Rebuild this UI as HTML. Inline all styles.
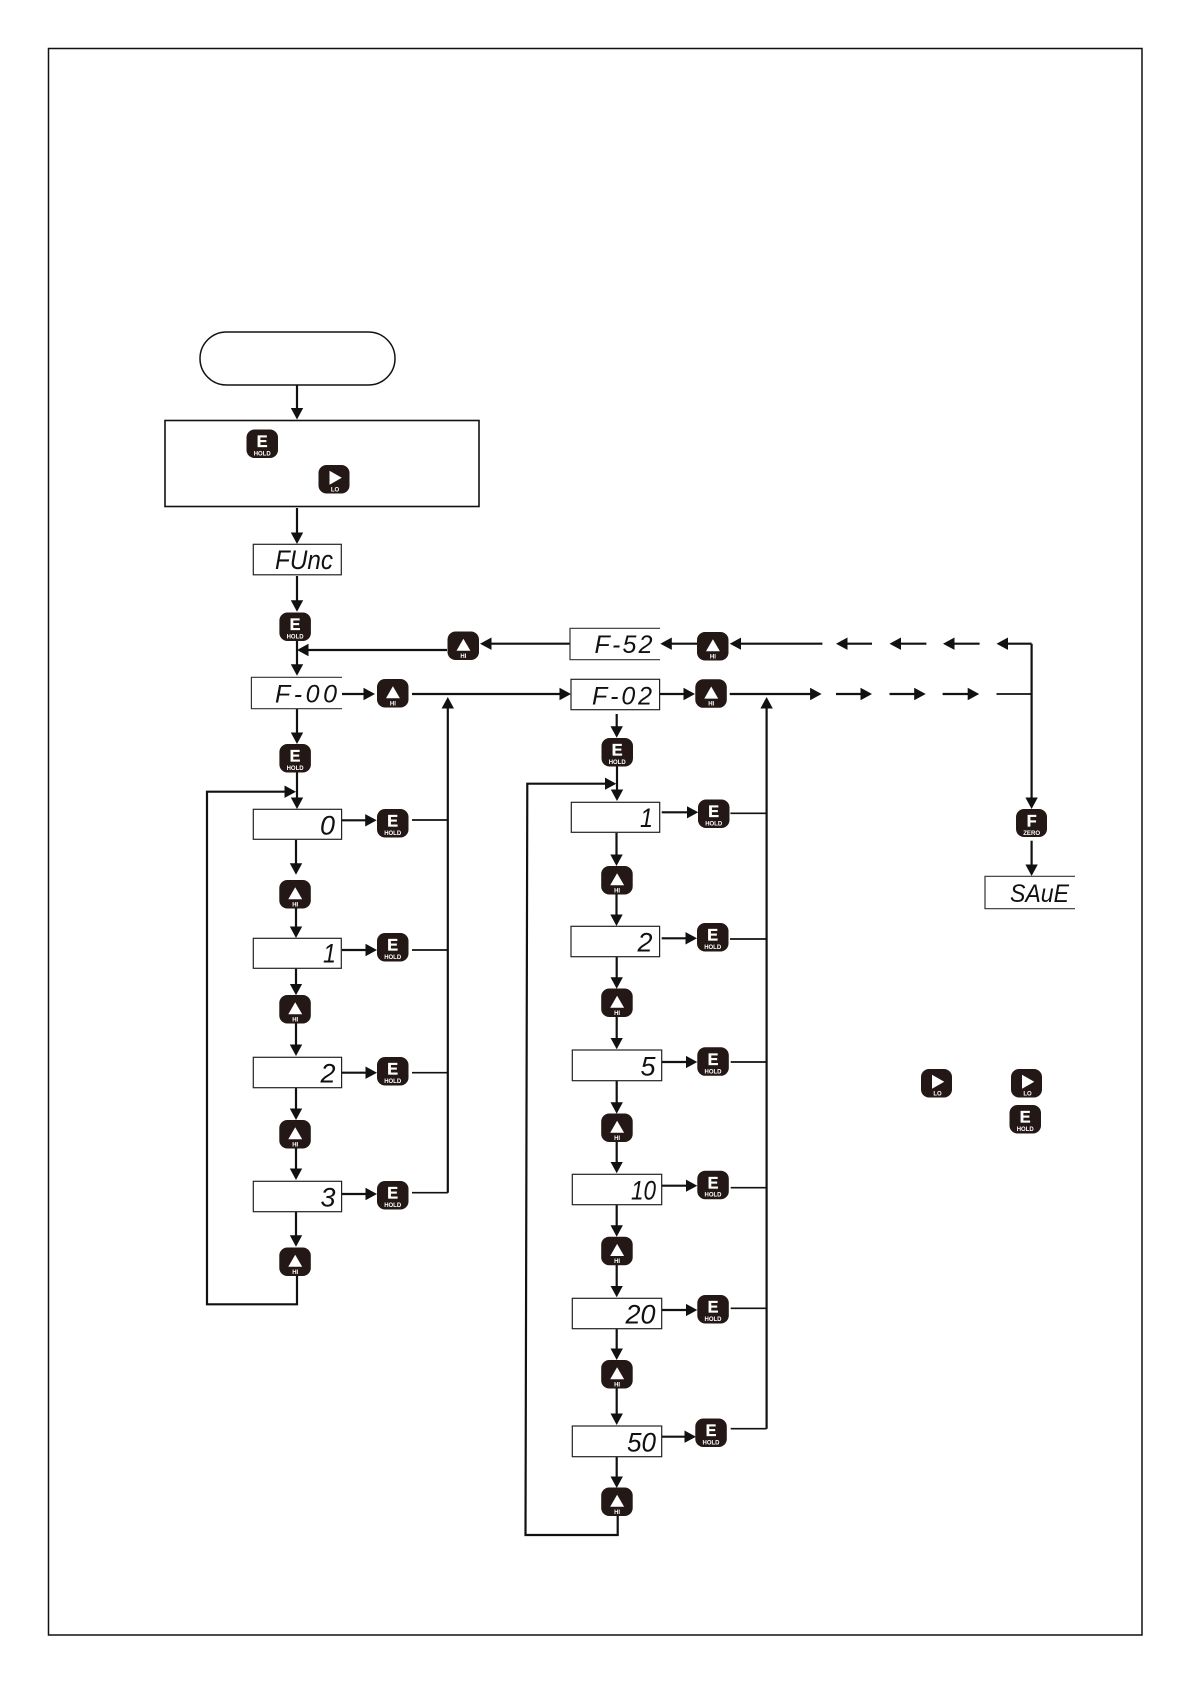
<!DOCTYPE html>
<html><head><meta charset="utf-8"><style>
html,body{margin:0;padding:0;background:#fff}
svg{display:block}
.l{fill:none;stroke:#111;stroke-width:2}
.t{fill:none;stroke:#111;stroke-width:1.7}
.a{fill:none;stroke:#111;stroke-width:2.2;marker-end:url(#h)}
.b{fill:#fff;stroke:#222;stroke-width:1.2}
.o{fill:none;stroke:#333;stroke-width:1.2}
.d{font-family:"Liberation Sans",sans-serif;font-style:italic;font-size:27px;fill:#111}
.s{font-size:25px}
.k{font-family:"Liberation Sans",sans-serif;font-weight:bold;fill:#fff;text-anchor:middle}
</style></head><body>
<svg width="1191" height="1684" viewBox="0 0 1191 1684" xmlns="http://www.w3.org/2000/svg">
<defs>
<marker id="h" markerUnits="userSpaceOnUse" markerWidth="13" markerHeight="14" refX="5.5" refY="7" orient="auto"><path d="M0,0.8 L11.5,7 L0,13.2z" fill="#111"/></marker>
<g id="E"><rect width="31.5" height="28.5" rx="8" fill="#231815"/><text class="k" x="15.7" y="17.6" font-size="16.2" stroke="#fff" stroke-width=".35">E</text><text class="k" x="15.7" y="26" font-size="6.3" textLength="17" lengthAdjust="spacingAndGlyphs">HOLD</text></g>
<g id="H"><rect width="31.5" height="28.5" rx="8" fill="#231815"/><path d="M15.9,7.2 L22.9,19.3 H9 z" fill="#fff"/><text class="k" x="15.9" y="26.3" font-size="6">HI</text></g>
<g id="L"><rect width="31" height="28.5" rx="8" fill="#231815"/><path d="M11,5.7 L23.3,12.7 L11,19.7 z" fill="#fff"/><text class="k" x="16.5" y="26.3" font-size="6">LO</text></g>
<g id="F"><rect width="31" height="28" rx="8" fill="#231815"/><text class="k" x="15.7" y="17.6" font-size="16.2" stroke="#fff" stroke-width=".35">F</text><text class="k" x="15.7" y="26" font-size="6.3" textLength="17" lengthAdjust="spacingAndGlyphs">ZERO</text></g>
</defs>

<!-- page frame -->
<rect x="48.5" y="48.5" width="1093.5" height="1586.5" fill="none" stroke="#111" stroke-width="1.5"/>

<!-- top -->
<rect x="200" y="332" width="195" height="53" rx="26.5" fill="none" stroke="#111" stroke-width="1.5"/>
<rect x="165" y="420.5" width="314" height="86" fill="none" stroke="#111" stroke-width="1.6"/>
<use href="#E" x="246.5" y="429.5"/>
<use href="#L" x="318.5" y="465"/>

<!-- left column vertical arrows -->
<path class="a" d="M297,385V413.5"/>
<path class="a" d="M297,508V538"/>
<path class="a" d="M297,576V605.7"/>
<path class="a" d="M297,640V669.7"/>
<path class="a" d="M297,709V738"/>
<path class="a" d="M297,772V803"/>
<path class="a" d="M296,840V868.7"/>
<path class="a" d="M296,907.7V932"/>
<path class="a" d="M296,968.7V989.3"/>
<path class="a" d="M296,1022.7V1050"/>
<path class="a" d="M296,1088V1114"/>
<path class="a" d="M296,1148V1174"/>
<path class="a" d="M296,1212V1240.7"/>

<!-- left loop -->
<path class="a" d="M297,1275V1304.3H207V791.7H290"/>

<!-- F-52 return -->
<path class="a" d="M447,650H303"/>
<path class="a" d="M570,643.7H486"/>

<!-- F-00 -->
<path class="a" d="M342,694H369"/>
<path class="a" d="M412,694H565"/>
<path class="a" d="M447.8,1192.7V703"/>
<path class="t" d="M412,820H447.8M412,950H447.8M412,1072.7H447.8M412,1192.7H447.8"/>
<path class="a" d="M342,820.3H370.7"/>
<path class="a" d="M342,950H371"/>
<path class="a" d="M342,1072.7H371"/>
<path class="a" d="M342,1194H371"/>

<!-- top right row -->
<path class="a" d="M697,643.7H666.3"/>
<path class="a" d="M822.4,643.7H735.7"/>
<path class="a" d="M872,643.7H842"/>
<path class="a" d="M926.4,643.7H895.5"/>
<path class="a" d="M979.6,643.7H949"/>
<path class="a" d="M1031.6,643.7H1002.5"/>
<path class="a" d="M660,694H689"/>
<path class="a" d="M729.7,694H815.6"/>
<path class="a" d="M836,694H866"/>
<path class="a" d="M889.5,694H919.7"/>
<path class="a" d="M942.6,694H973.2"/>
<path class="t" d="M996.5,694H1031.6"/>
<path class="a" d="M1031.6,643.7V803"/>
<path class="a" d="M1031.6,840.7V870"/>

<!-- right column vertical arrows -->
<path class="a" d="M616.7,714V731.7"/>
<path class="a" d="M617,766V795"/>
<path class="a" d="M616.5,833V860"/>
<path class="a" d="M616.5,894V920"/>
<path class="a" d="M616.7,957V982.7"/>
<path class="a" d="M616.7,1016.7V1043.3"/>
<path class="a" d="M616.7,1081V1107.7"/>
<path class="a" d="M616.7,1141.7V1167.3"/>
<path class="a" d="M616.7,1205V1230.7"/>
<path class="a" d="M616.7,1264.7V1291.3"/>
<path class="a" d="M616.7,1329V1354"/>
<path class="a" d="M616.7,1388.3V1419"/>
<path class="a" d="M616.7,1457V1482"/>

<!-- right loop -->
<path class="a" d="M617.7,1516V1535H525.5L527.3,783.7H610.3"/>

<!-- right return -->
<path class="a" d="M766.6,1428.7V703"/>
<path class="t" d="M730.4,813.3H766.6M730,939H766.6M730.7,1062H766.6M730.7,1187.7H766.6M730.7,1308.3H766.6M730.7,1428.7H766.6"/>
<path class="a" d="M661.7,812.3H692.3"/>
<path class="a" d="M661.7,938.3H691"/>
<path class="a" d="M661.7,1062H691.3"/>
<path class="a" d="M661.7,1185.7H691.3"/>
<path class="a" d="M661.7,1310H691.3"/>
<path class="a" d="M661.7,1436.7H690"/>

<!-- display boxes -->
<rect class="b" x="253.3" y="544.3" width="88" height="30.5"/>
<path class="o" d="M342,677.3H251.4V708.7H342"/>
<path class="o" d="M660,628.3H570V659.7H660"/>
<rect class="b" x="571" y="679.3" width="88.6" height="30.4"/>
<path class="o" d="M1075,876.3H985V908.7H1075"/>
<rect class="b" x="253.3" y="809.3" width="88.3" height="30"/>
<rect class="b" x="253.3" y="938.3" width="88" height="30"/>
<rect class="b" x="253.3" y="1057.3" width="88.3" height="30.4"/>
<rect class="b" x="253.3" y="1181.3" width="88.3" height="30.4"/>
<rect class="b" x="571.3" y="802.3" width="88.4" height="30"/>
<rect class="b" x="571" y="926.3" width="88.6" height="30.4"/>
<rect class="b" x="572.3" y="1050" width="89.4" height="30.7"/>
<rect class="b" x="572.3" y="1174.3" width="89.4" height="30.4"/>
<rect class="b" x="572.3" y="1298.3" width="89.4" height="30.4"/>
<rect class="b" x="572.3" y="1426" width="89.4" height="30.7"/>

<!-- display text -->
<text class="d" x="275" y="569" textLength="58" lengthAdjust="spacingAndGlyphs">FUnc</text>
<text class="d s" x="275" y="702.5" textLength="62" lengthAdjust="spacing">F-00</text>
<text class="d s" x="592" y="704.7" textLength="60" lengthAdjust="spacing">F-02</text>
<text class="d s" x="594.5" y="653" textLength="58" lengthAdjust="spacing">F-52</text>
<text class="d s" x="1010" y="902" textLength="59" lengthAdjust="spacingAndGlyphs">SAuE</text>
<text class="d" x="320" y="834.3" textLength="15" lengthAdjust="spacingAndGlyphs">0</text>
<text class="d" x="323" y="962.3" textLength="13" lengthAdjust="spacingAndGlyphs">1</text>
<text class="d" x="320.5" y="1082.7" textLength="15" lengthAdjust="spacingAndGlyphs">2</text>
<text class="d" x="320.5" y="1206.7" textLength="15" lengthAdjust="spacingAndGlyphs">3</text>
<text class="d" x="640" y="827" textLength="13" lengthAdjust="spacingAndGlyphs">1</text>
<text class="d" x="637.5" y="951.5" textLength="15" lengthAdjust="spacingAndGlyphs">2</text>
<text class="d" x="640.5" y="1075.7" textLength="15" lengthAdjust="spacingAndGlyphs">5</text>
<text class="d" x="631" y="1199.3" textLength="25" lengthAdjust="spacingAndGlyphs">10</text>
<text class="d" x="625.5" y="1323.3" textLength="30" lengthAdjust="spacingAndGlyphs">20</text>
<text class="d" x="627" y="1451.3" textLength="29" lengthAdjust="spacingAndGlyphs">50</text>

<!-- buttons -->
<use href="#E" x="279.4" y="612.5"/>
<use href="#H" x="447.5" y="631.5"/>
<use href="#H" x="377" y="679"/>
<use href="#H" x="697" y="632"/>
<use href="#H" x="695.3" y="679.3"/>
<use href="#E" x="279.4" y="744"/>
<use href="#E" x="377" y="809"/>
<use href="#H" x="279.3" y="880"/>
<use href="#E" x="377" y="933"/>
<use href="#H" x="279.3" y="995"/>
<use href="#E" x="377" y="1057"/>
<use href="#H" x="279.3" y="1120"/>
<use href="#E" x="377" y="1181"/>
<use href="#H" x="279.3" y="1247.5"/>
<use href="#E" x="601.5" y="738"/>
<use href="#E" x="698" y="799.5"/>
<use href="#H" x="601.2" y="866"/>
<use href="#E" x="697" y="923"/>
<use href="#H" x="601.2" y="988.5"/>
<use href="#E" x="697.3" y="1047.3"/>
<use href="#H" x="601.2" y="1113.5"/>
<use href="#E" x="697.3" y="1170.7"/>
<use href="#H" x="601.2" y="1236.7"/>
<use href="#E" x="697.3" y="1295"/>
<use href="#H" x="601.2" y="1360"/>
<use href="#E" x="695.3" y="1418.5"/>
<use href="#H" x="601.2" y="1487.5"/>
<use href="#F" x="1016" y="809"/>
<use href="#L" x="921" y="1069"/>
<use href="#L" x="1011" y="1069"/>
<use href="#E" x="1009.5" y="1105"/>
</svg>
</body></html>
